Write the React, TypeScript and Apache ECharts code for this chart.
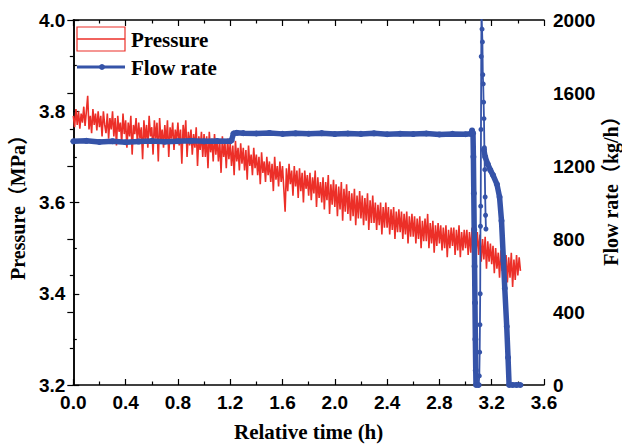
import React, { useEffect, useRef } from "react";
import * as echarts from "echarts";

// Pressure (MPa), sampled every 0.01 h starting at 0 h
const pressureStep = 0.01;
const pressureValues: number[] = [
  3.79, 3.765, 3.805, 3.77, 3.80, 3.762, 3.795, 3.775, 3.81, 3.768,
  3.80, 3.834, 3.76, 3.79, 3.752, 3.805, 3.77, 3.795, 3.758, 3.80,
  3.765, 3.79, 3.745, 3.80, 3.77, 3.752, 3.795, 3.74, 3.785, 3.76,
  3.80, 3.745, 3.785, 3.725, 3.79, 3.755, 3.775, 3.73, 3.795, 3.75,
  3.78, 3.72, 3.775, 3.745, 3.79, 3.705, 3.77, 3.75, 3.785, 3.73,
  3.775, 3.74, 3.765, 3.695, 3.78, 3.735, 3.77, 3.72, 3.79, 3.745,
  3.765, 3.705, 3.78, 3.74, 3.775, 3.69, 3.785, 3.735, 3.76, 3.72,
  3.77, 3.73, 3.78, 3.70, 3.765, 3.74, 3.775, 3.715, 3.76, 3.735,
  3.775, 3.725, 3.76, 3.685, 3.77, 3.735, 3.78, 3.70, 3.755, 3.725,
  3.76, 3.705, 3.75, 3.72, 3.765, 3.68, 3.745, 3.715, 3.755, 3.70,
  3.75, 3.70, 3.745, 3.675, 3.755, 3.71, 3.74, 3.69, 3.75, 3.705,
  3.74, 3.69, 3.735, 3.665, 3.745, 3.70, 3.73, 3.675, 3.74, 3.695,
  3.73, 3.68, 3.725, 3.66, 3.735, 3.69, 3.72, 3.67, 3.73, 3.685,
  3.72, 3.67, 3.715, 3.65, 3.725, 3.68, 3.705, 3.66, 3.72, 3.675,
  3.705, 3.66, 3.70, 3.64, 3.71, 3.665, 3.69, 3.645, 3.70, 3.66,
  3.69, 3.645, 3.685, 3.625, 3.70, 3.65, 3.68, 3.635, 3.69, 3.645,
  3.68, 3.63, 3.58, 3.675, 3.625, 3.685, 3.64, 3.67, 3.615, 3.68,
  3.635, 3.67, 3.61, 3.675, 3.625, 3.665, 3.60, 3.67, 3.63, 3.66,
  3.615, 3.665, 3.605, 3.655, 3.62, 3.67, 3.59, 3.655, 3.61, 3.645,
  3.60, 3.655, 3.585, 3.645, 3.605, 3.66, 3.575, 3.64, 3.595, 3.65,
  3.59, 3.64, 3.57, 3.635, 3.585, 3.645, 3.56, 3.63, 3.58, 3.64,
  3.575, 3.625, 3.56, 3.62, 3.57, 3.63, 3.55, 3.615, 3.565, 3.625,
  3.565, 3.615, 3.55, 3.61, 3.56, 3.62, 3.54, 3.605, 3.555, 3.615,
  3.555, 3.60, 3.54, 3.595, 3.55, 3.60, 3.53, 3.59, 3.545, 3.60,
  3.545, 3.59, 3.53, 3.585, 3.54, 3.59, 3.52, 3.58, 3.535, 3.585,
  3.535, 3.58, 3.52, 3.575, 3.53, 3.58, 3.51, 3.57, 3.525, 3.575,
  3.525, 3.57, 3.51, 3.565, 3.52, 3.57, 3.50, 3.56, 3.515, 3.565,
  3.515, 3.575, 3.50, 3.555, 3.51, 3.56, 3.49, 3.55, 3.505, 3.555,
  3.51, 3.55, 3.495, 3.545, 3.50, 3.55, 3.48, 3.54, 3.50, 3.545,
  3.505, 3.545, 3.485, 3.54, 3.495, 3.55, 3.48, 3.535, 3.495, 3.54,
  3.50, 3.54, 3.485, 3.535, 3.49, 3.545, 3.478, 3.56, 3.49, 3.535,
  3.485, 3.53, 3.47, 3.52, 3.475, 3.525, 3.455, 3.515, 3.47, 3.51,
  3.465, 3.505, 3.445, 3.50, 3.455, 3.49, 3.435, 3.495, 3.45, 3.49,
  3.445, 3.485, 3.425, 3.48, 3.435, 3.49, 3.415, 3.475, 3.43, 3.485,
  3.44, 3.48, 3.45,
];

// Flow rate (kg/h): main trace (null marks the break where the spike happens)
const flowTimes: number[] = [
  0, 0.1, 0.2, 0.3, 0.4, 0.5, 0.6, 0.7, 0.8, 0.9, 1.0, 1.1, 1.2, 1.21, 1.225,
  1.25, 1.3, 1.4, 1.5, 1.6, 1.7, 1.8, 1.9, 2.0, 2.1, 2.2, 2.3, 2.4, 2.5, 2.6,
  2.7, 2.8, 2.9, 3.0, 3.04, 3.05, 3.057, 3.06, 3.063, 3.066, 3.069, 3.072,
  3.075, 3.078, 3.08, 3.1, 3.12,
  3.14, 3.15, 3.17, 3.19, 3.21, 3.24, 3.26, 3.275, 3.29, 3.30,
  3.315, 3.325, 3.333, 3.36, 3.39, 3.42,
];
const flowValues: (number | null)[] = [
  1335, 1338, 1332, 1336, 1330, 1334, 1337, 1333, 1336, 1338, 1335, 1337, 1336, 1340, 1378,
  1382, 1380, 1378, 1381, 1376, 1379, 1377, 1380, 1375, 1378, 1376, 1379, 1374, 1377, 1375,
  1378, 1373, 1376, 1374, 1377, 1395, 1380, 1250, 1050, 850, 650, 450,
  250, 80, 0, 0, null,
  1290, 1250, 1210, 1177, 1150, 1100, 1030, 900, 680, 530,
  320, 150, 0, 0, 0, 0,
];

// Flow rate (kg/h): the short spike after the shut-in
const spikeTimes: number[] = [
  3.1, 3.105, 3.108, 3.11, 3.112, 3.114, 3.116, 3.118, 3.12, 3.122,
  3.126, 3.129, 3.132, 3.135, 3.138, 3.141, 3.144, 3.147, 3.15, 3.153, 3.156,
];
const spikeValues: number[] = [
  0, 50, 180, 330, 500, 870, 980, 1400, 1800, 2050,
  1950, 1880, 1700, 1650, 1550, 1460, 1300, 1180, 1030, 930, 855,
];

const xTicks = { min: 0, max: 3.6, interval: 0.4 };
const pTicks = { min: 3.2, max: 4.0, interval: 0.2 };
const fTicks = { min: 0, max: 2000, interval: 400 };

const RED = "#ec2f28";
const BLUE = "#3553a8";
const SERIF = "'Liberation Serif', 'Times New Roman', 'Noto Sans CJK SC', serif";
const SANS = "'Liberation Sans', Arial, sans-serif";

export default function App() {
  const ref = useRef<HTMLDivElement>(null);
  useEffect(() => {
    if (!ref.current) return;
    const chart = echarts.init(ref.current, null, { renderer: "svg" });
    const pressureData = pressureValues.map((v, i) => [
      +(i * pressureStep).toFixed(2),
      v,
    ]);
    const flowData = flowTimes.map((t, i) => [t, flowValues[i]]);
    const spikeData = spikeTimes.map((t, i) => [t, spikeValues[i]]);

    const axisLine = { show: true, lineStyle: { color: "#000", width: 1.5 } };
    const tick = { show: true, inside: true, length: 6, lineStyle: { color: "#000", width: 1.2 } };
    const minorTick = { show: true, splitNumber: 2, length: 3.5, lineStyle: { color: "#000", width: 1.2 } };
    const label = { color: "#000", fontFamily: SANS, fontWeight: "bold" as const, fontSize: 19 };

    chart.setOption({
      animation: false,
      backgroundColor: "#fff",
      grid: { left: 70, right: 78, top: 20, bottom: 55, containLabel: false },
      xAxis: [
        {
          type: "value",
          position: "bottom",
          ...xTicks,
          axisLine,
          axisTick: tick,
          minorTick,
          splitLine: { show: false },
          axisLabel: { ...label, margin: 8, formatter: (v: number) => v.toFixed(1) },
          name: "Relative time (h)",
          nameLocation: "middle",
          nameGap: 36,
          nameTextStyle: { color: "#000", fontFamily: SERIF, fontWeight: "bold", fontSize: 21 },
        },
        {
          type: "value",
          position: "top",
          ...xTicks,
          axisLine,
          axisTick: tick,
          minorTick,
          splitLine: { show: false },
          axisLabel: { show: false },
        },
      ],
      yAxis: [
        {
          type: "value",
          position: "left",
          ...pTicks,
          axisLine,
          axisTick: tick,
          minorTick,
          splitLine: { show: false },
          axisLabel: { ...label, margin: 8, formatter: (v: number) => v.toFixed(1) },
          name: "Pressure（MPa）",
          nameLocation: "middle",
          nameGap: 41,
          nameRotate: 90,
          nameTextStyle: { color: "#000", fontFamily: SERIF, fontWeight: "bold", fontSize: 20 },
        },
        {
          type: "value",
          position: "right",
          ...fTicks,
          axisLine,
          axisTick: tick,
          minorTick,
          splitLine: { show: false },
          axisLabel: { ...label, margin: 9, formatter: (v: number) => String(v) },
        },
      ],
      graphic: [
        {
          type: "rect",
          shape: { x: 77, y: 27, width: 48, height: 24 },
          style: { fill: "none", stroke: RED, lineWidth: 1.2 },
        },
        {
          type: "line",
          shape: { x1: 77, y1: 39, x2: 125, y2: 39 },
          style: { stroke: RED, lineWidth: 1.5 },
        },
        {
          type: "text",
          x: 131,
          y: 40,
          style: {
            text: "Pressure",
            fill: "#000",
            font: `bold 21px ${SERIF}`,
            verticalAlign: "middle",
            align: "left",
          },
        },
        {
          type: "line",
          shape: { x1: 77, y1: 67, x2: 125, y2: 67 },
          style: { stroke: BLUE, lineWidth: 3 },
        },
        {
          type: "circle",
          shape: { cx: 102, cy: 67, r: 3 },
          style: { fill: BLUE },
        },
        {
          type: "text",
          x: 131,
          y: 68,
          style: {
            text: "Flow rate",
            fill: "#000",
            font: `bold 21px ${SERIF}`,
            verticalAlign: "middle",
            align: "left",
          },
        },
        {
          type: "text",
          x: 611,
          y: 186,
          rotation: Math.PI / 2,
          style: {
            text: "Flow rate（kg/h）",
            fill: "#000",
            font: `bold 20px ${SERIF}`,
            verticalAlign: "middle",
            align: "center",
          },
        },
      ],
      series: [
        {
          name: "Pressure",
          type: "line",
          xAxisIndex: 0,
          yAxisIndex: 0,
          data: pressureData,
          showSymbol: false,
          lineStyle: { color: RED, width: 1.6 },
          itemStyle: { color: RED },
        },
        {
          name: "Flow rate",
          type: "line",
          xAxisIndex: 0,
          yAxisIndex: 1,
          data: flowData,
          showSymbol: true,
          symbol: "circle",
          symbolSize: 6,
          connectNulls: false,
          clip: true,
          lineStyle: { color: BLUE, width: 5.5 },
          itemStyle: { color: BLUE },
        },
        {
          name: "Flow rate spike",
          type: "line",
          xAxisIndex: 0,
          yAxisIndex: 1,
          data: spikeData,
          showSymbol: true,
          symbol: "circle",
          symbolSize: 5,
          clip: true,
          lineStyle: { color: BLUE, width: 1.8 },
          itemStyle: { color: BLUE },
        },
      ],
    });
    return () => chart.dispose();
  }, []);
  return (
    <div
      ref={ref}
      style={{ position: "absolute", left: 0, top: 0, width: 622, height: 447 }}
    />
  );
}
